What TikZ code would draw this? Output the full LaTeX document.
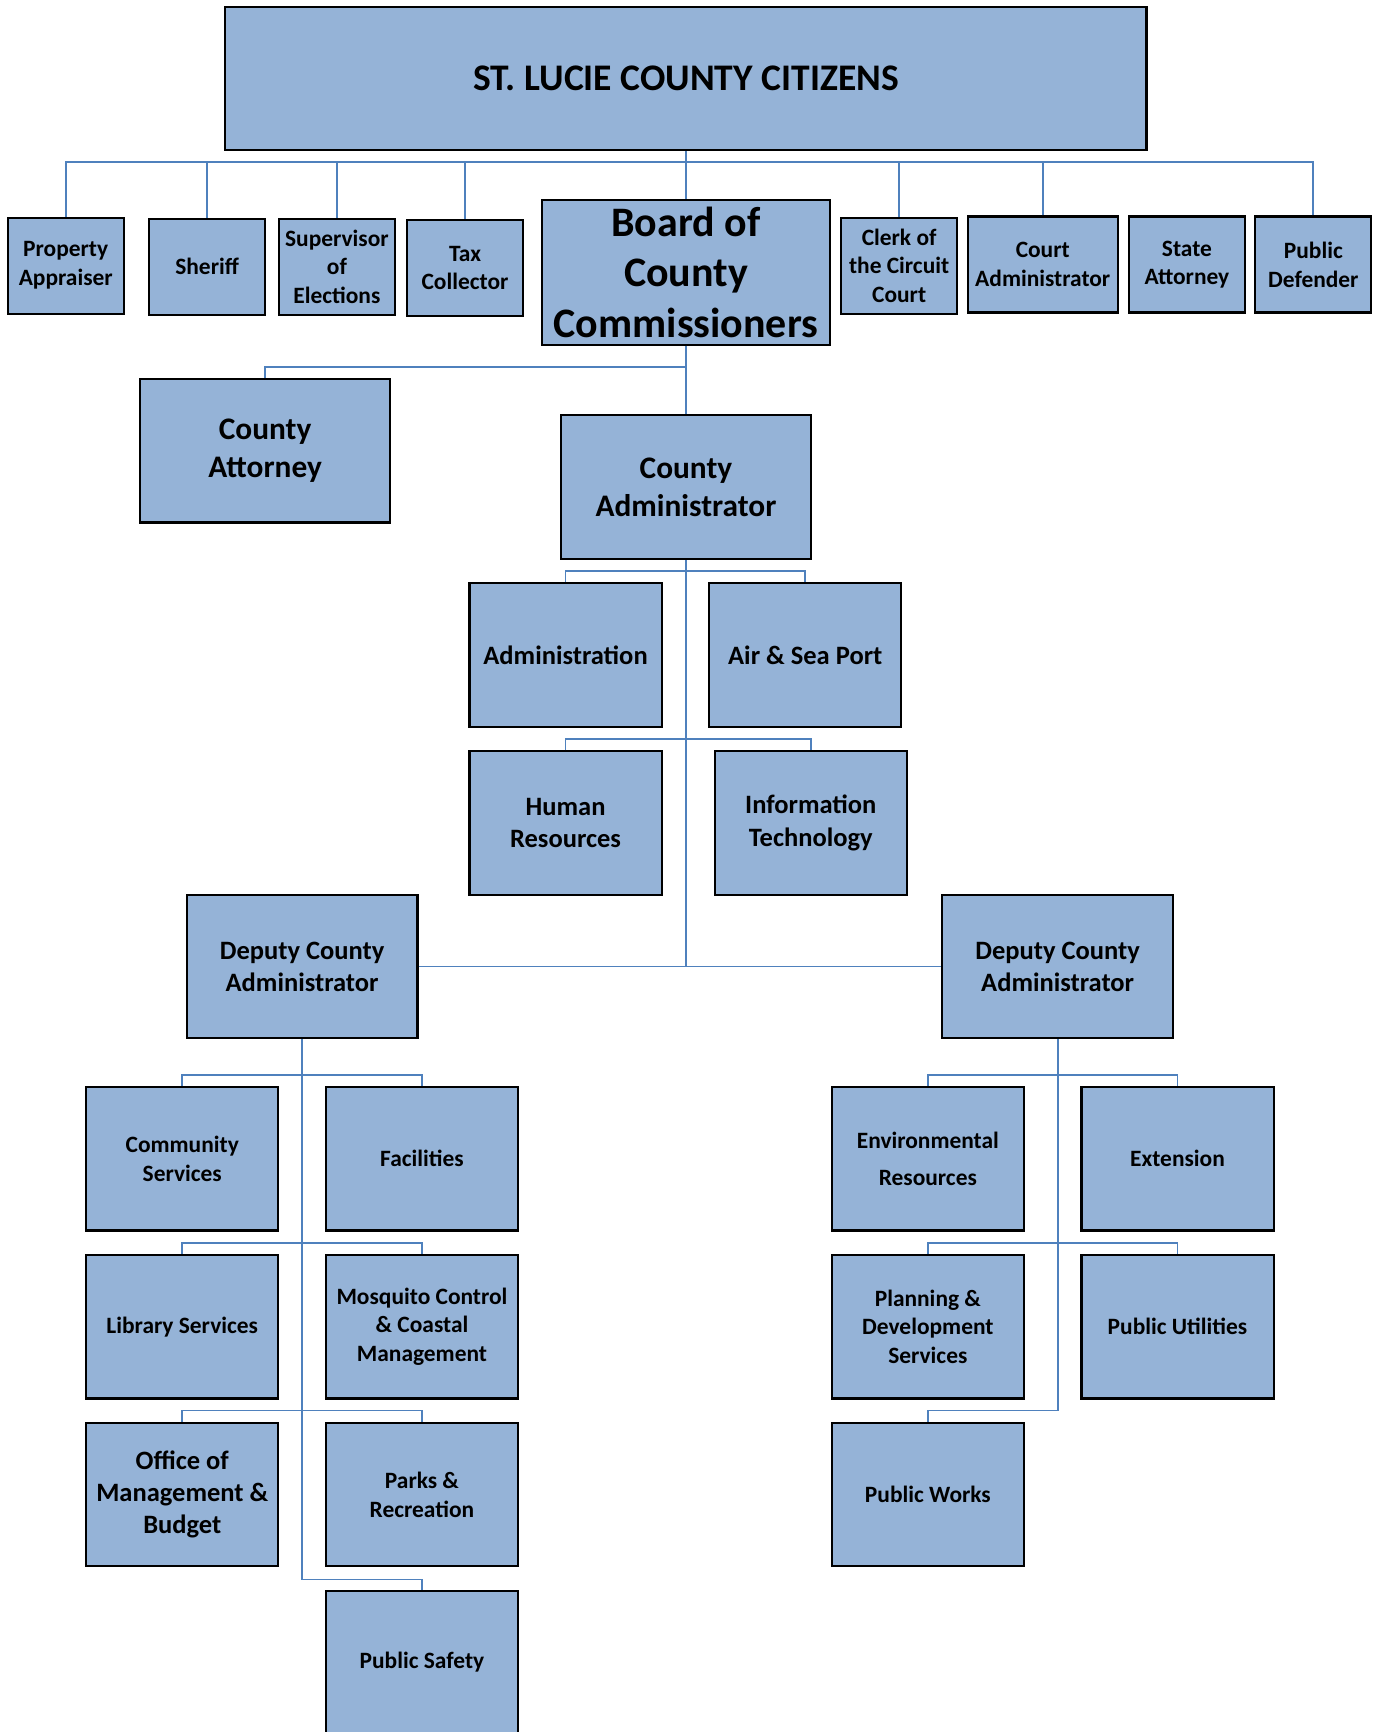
\documentclass[tikz,border=0pt]{standalone}
\usepackage{fontspec}
\setmainfont{Carlito}
\usepackage{xcolor}
\usepackage{tikz}
\usetikzlibrary{positioning}

\definecolor{boxblue}{HTML}{95B3D7}
\definecolor{lineblue}{HTML}{4F81BD}

\begin{document}
\begin{tikzpicture}[x=0.5pt, y=-0.5pt]
    % Styles
    \tikzstyle{box} = [rectangle, draw=black, line width=1pt, fill=boxblue, align=center, inner sep=0pt]
    \tikzstyle{office} = [box, minimum width=52.5pt, minimum height=43.5pt, font=\fontsize{10.6}{13}\selectfont\bfseries]
    \tikzstyle{dept} = [box, minimum width=87pt, minimum height=65pt, font=\fontsize{10.6}{13}\selectfont\bfseries]
    \tikzstyle{bigdept} = [dept, font=\fontsize{12}{14.5}\selectfont\bfseries]
    \tikzstyle{head} = [box, minimum width=113pt, minimum height=65pt, font=\fontsize{14.2}{17}\selectfont\bfseries]
    \tikzstyle{link} = [draw=lineblue, line width=0.8pt]

    \useasboundingbox (0,0) rectangle (1249,1568);

    % Nodes
    \node (citizens) [box, minimum width=417pt, minimum height=65pt, font=\fontsize{17}{20}\selectfont\bfseries] at (621,71) {ST. LUCIE COUNTY CITIZENS};

    \node (appraiser) [office] at (59.5,240.5) {\raisebox{-4pt}{\shortstack{Property\\[1pt]Appraiser}}};
    \node (sheriff) [office] at (187.5,241.5) {Sheriff};
    \node (elections) [office] at (305,241.5) {Supervisor\\of\\Elections};
    \node (tax) [office] at (421,242.5) {Tax\\Collector};
    \node (board) [box, minimum width=130.5pt, minimum height=65.5pt, font=\fontsize{19}{23}\selectfont\bfseries] at (621,246.5) {Board of\\County\\Commissioners};
    \node (clerk) [office] at (814,240.5) {Clerk of\\the Circuit\\Court};
    \node (courtadmin) [office, minimum width=68pt] at (944,239.5) {Court\\Administrator};
    \node (stateatt) [office] at (1074.5,239.5) {State\\Attorney};
    \node (defender) [office] at (1189,239.5) {Public\\Defender};

    \node (attorney) [head] at (240,408) {County\\Attorney};
    \node (coadmin) [head] at (621,441) {County\\Administrator};

    \node (admin) [bigdept] at (512,593) {Administration};
    \node (port) [bigdept] at (729,593) {Air \& Sea Port};
    \node (hr) [bigdept] at (512,745) {Human\\Resources};
    \node (it) [bigdept] at (734,745) {Information\\Technology};

    \node (deputyl) [bigdept, minimum width=104.5pt] at (273.5,875) {Deputy County\\Administrator};
    \node (deputyr) [bigdept, minimum width=104.5pt] at (957.5,875) {Deputy County\\Administrator};

    \node (community) [dept] at (165,1049) {Community\\Services};
    \node (facilities) [dept] at (382,1049) {Facilities};
    \node (library) [dept] at (165,1201) {Library Services};
    \node (mosquito) [dept] at (382,1201) {Mosquito Control\\\& Coastal\\Management};
    \node (omb) [bigdept] at (165,1353) {Office of\\Management \&\\Budget};
    \node (parks) [dept] at (382,1353) {Parks \&\\Recreation};
    \node (safety) [dept] at (382,1505) {Public Safety};

    \node (environ) [dept] at (840,1049) {Environmental\\[3.5pt]Resources};
    \node (extension) [dept] at (1066,1049) {Extension};
    \node (planning) [dept] at (840,1201) {Planning \&\\Development\\Services};
    \node (utilities) [dept] at (1066,1201) {Public Utilities};
    \node (works) [dept] at (840,1353) {Public Works};

    % Bus points
    \coordinate (topbus) at (621,147);
    \coordinate (attbus) at (621,332);
    \coordinate (cbus1) at (621,517);
    \coordinate (cbus2) at (621,669);
    \coordinate (lbus1) at (273.5,973);
    \coordinate (lbus2) at (273.5,1125);
    \coordinate (lbus3) at (273.5,1277);
    \coordinate (lbus4) at (273.5,1430);
    \coordinate (rbus1) at (957.5,973);
    \coordinate (rbus2) at (957.5,1125);
    \coordinate (rbus3) at (957.5,1277);

    % Lines
    \draw [link] (citizens.south) -- (board.north);
    \foreach \n in {appraiser, sheriff, elections, tax, clerk, courtadmin, defender}
        \draw [link] (\n.north) |- (topbus);

    \draw [link] (board.south) -- (coadmin.north);
    \draw [link] (attorney.north) |- (attbus);

    \draw [link] (coadmin.south) -- (coadmin.south |- deputyl.east);
    \draw [link] (deputyl.east) -- (deputyr.west);
    \foreach \n in {admin, port}
        \draw [link] (\n.north) |- (cbus1);
    \foreach \n in {hr, it}
        \draw [link] (\n.north) |- (cbus2);

    \draw [link] (deputyl.south) -- (lbus4) -| (safety.north);
    \foreach \n in {community, facilities}
        \draw [link] (\n.north) |- (lbus1);
    \foreach \n in {library, mosquito}
        \draw [link] (\n.north) |- (lbus2);
    \foreach \n in {omb, parks}
        \draw [link] (\n.north) |- (lbus3);

    \draw [link] (deputyr.south) -- (rbus3) -| (works.north);
    \foreach \n in {environ, extension}
        \draw [link] (\n.north) |- (rbus1);
    \foreach \n in {planning, utilities}
        \draw [link] (\n.north) |- (rbus2);
\end{tikzpicture}
\end{document}
